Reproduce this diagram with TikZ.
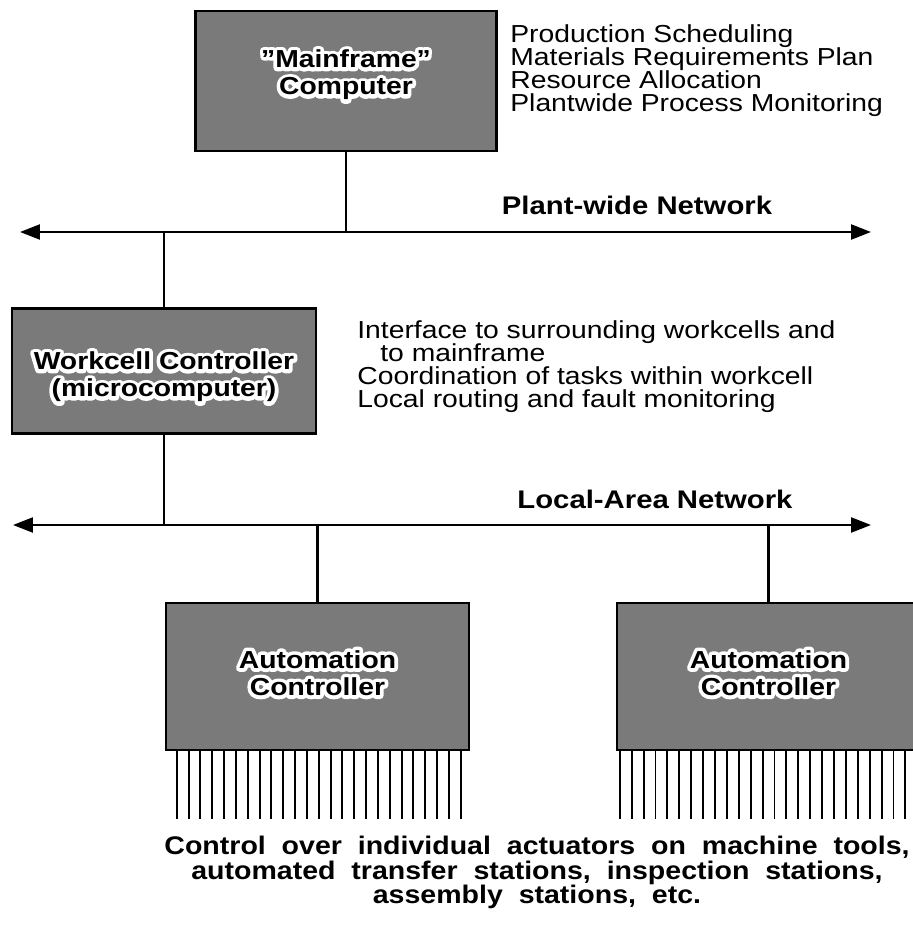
\documentclass[tikz,border=0pt]{standalone}
\usepackage{fontspec}
\setmainfont{Liberation Sans}[FakeStretch=1.15]
\newfontfamily\widefont{Liberation Sans}[FakeStretch=1.12,WordSpace=2]
\newfontfamily\halofont{Liberation Sans Bold}[FakeStretch=1.15,FakeBold=30]
\usetikzlibrary{arrows.meta,positioning,calc}
% tight leading in the text blocks
\lineskiplimit=-30pt
\tikzset{
  unitbox/.style={rectangle,draw=black,line width=1.4pt,fill=black!52,inner sep=0pt},
  link/.style={line width=1.3pt},
  netline/.style={link,{Triangle[length=4mm,width=3mm]}-{Triangle[length=4mm,width=3mm]}},
  pin/.style={line width=1.1pt},
  boxlabel/.style={align=center,inner sep=0pt,font=\fontsize{14}{15.5}\selectfont\bfseries},
  boxhalo/.style={boxlabel,text=white,line join=round,
    font=\fontsize{14}{15.5}\selectfont\halofont},
  tasklist/.style={align=left,inner sep=0pt,anchor=north west,
    font=\fontsize{14}{13.1}\selectfont},
  netlabel/.style={inner sep=0pt,font=\fontsize{14.5}{20}\selectfont\bfseries},
  caption/.style={align=center,inner sep=0pt,anchor=north,
    font=\widefont\fontsize{14.5}{13.9}\selectfont\bfseries}
}
% black label with a white rim, drawn on the gray boxes
\newcommand{\halolabel}[3]{%
  \node[boxhalo] (#1-rim) at (#2) {\special{pdf:literal direct 1 j}#3};
  \node[boxlabel] (#1) at (#2) {#3};
}

\begin{document}
\begin{tikzpicture}[x=0.02cm,y=-0.02cm]
  \useasboundingbox (0,0) rectangle (912,928);

  % computers
  \node[unitbox,minimum width=6.02cm,minimum height=2.8cm] (mainframe) at (346,81) {};
  \node[unitbox,minimum width=6.08cm,minimum height=2.5cm] (workcell) at (164,371) {};
  \node[unitbox,minimum width=6.06cm,minimum height=2.94cm] (autoA) at (317.5,676.5) {};
  \node[unitbox,minimum width=6.06cm,minimum height=2.94cm] (autoB) at (768.5,676.5) {};

  \halolabel{mflabel}{346,75}{"Mainframe"\\Computer}
  \halolabel{wclabel}{164,377}{Workcell Controller\\(microcomputer)}
  \halolabel{aclabelA}{317.5,673}{Automation\\Controller}
  \halolabel{aclabelB}{768.5,673}{Automation\\Controller}

  % networks
  \coordinate (pwL) at (20,232);
  \coordinate (pwR) at (871,232);
  \coordinate (lanL) at (13,525);
  \coordinate (lanR) at (871,525);
  \draw[netline] (pwL) -- (pwR);
  \draw[netline] (lanL) -- (lanR);
  \node[netlabel] (pwname) at (637,205) {Plant-wide Network};
  \node[netlabel] (lanname) at (655,499) {Local-Area Network};

  \draw[link] (mainframe.south) -- (mainframe.south |- pwL);
  \draw[link] (workcell.north) -- (workcell.north |- pwL);
  \draw[link] (workcell.south) -- (workcell.south |- lanL);
  \draw[link] (autoA.north) -- (autoA.north |- lanL);
  \draw[link] (autoB.north) -- (autoB.north |- lanL);

  % actuator lines
  \foreach \i in {0,...,24}
    \draw[pin] ($(autoA.south west)+(12+\i*11.83,0)$) -- ++(0,68);
  \foreach \i in {0,...,24}
    \draw[pin] ($(autoB.south west)+(4+\i*11.9,0)$) -- ++(0,68);

  % duties
  \node[tasklist] (mftasks) at (510,24) {Production Scheduling\\
    Materials Requirements Plan\\Resource Allocation\\
    Plantwide Process Monitoring};
  \node[tasklist] (wctasks) at (357,320) {Interface to surrounding workcells and\\
    \hspace*{0.46cm}to mainframe\\Coordination of tasks within workcell\\
    Local routing and fault monitoring};
  \node[caption] (actasks) at (537,836) {Control over individual actuators on machine tools,\\
    automated transfer stations, inspection stations,\\assembly stations, etc.};
\end{tikzpicture}
\end{document}
